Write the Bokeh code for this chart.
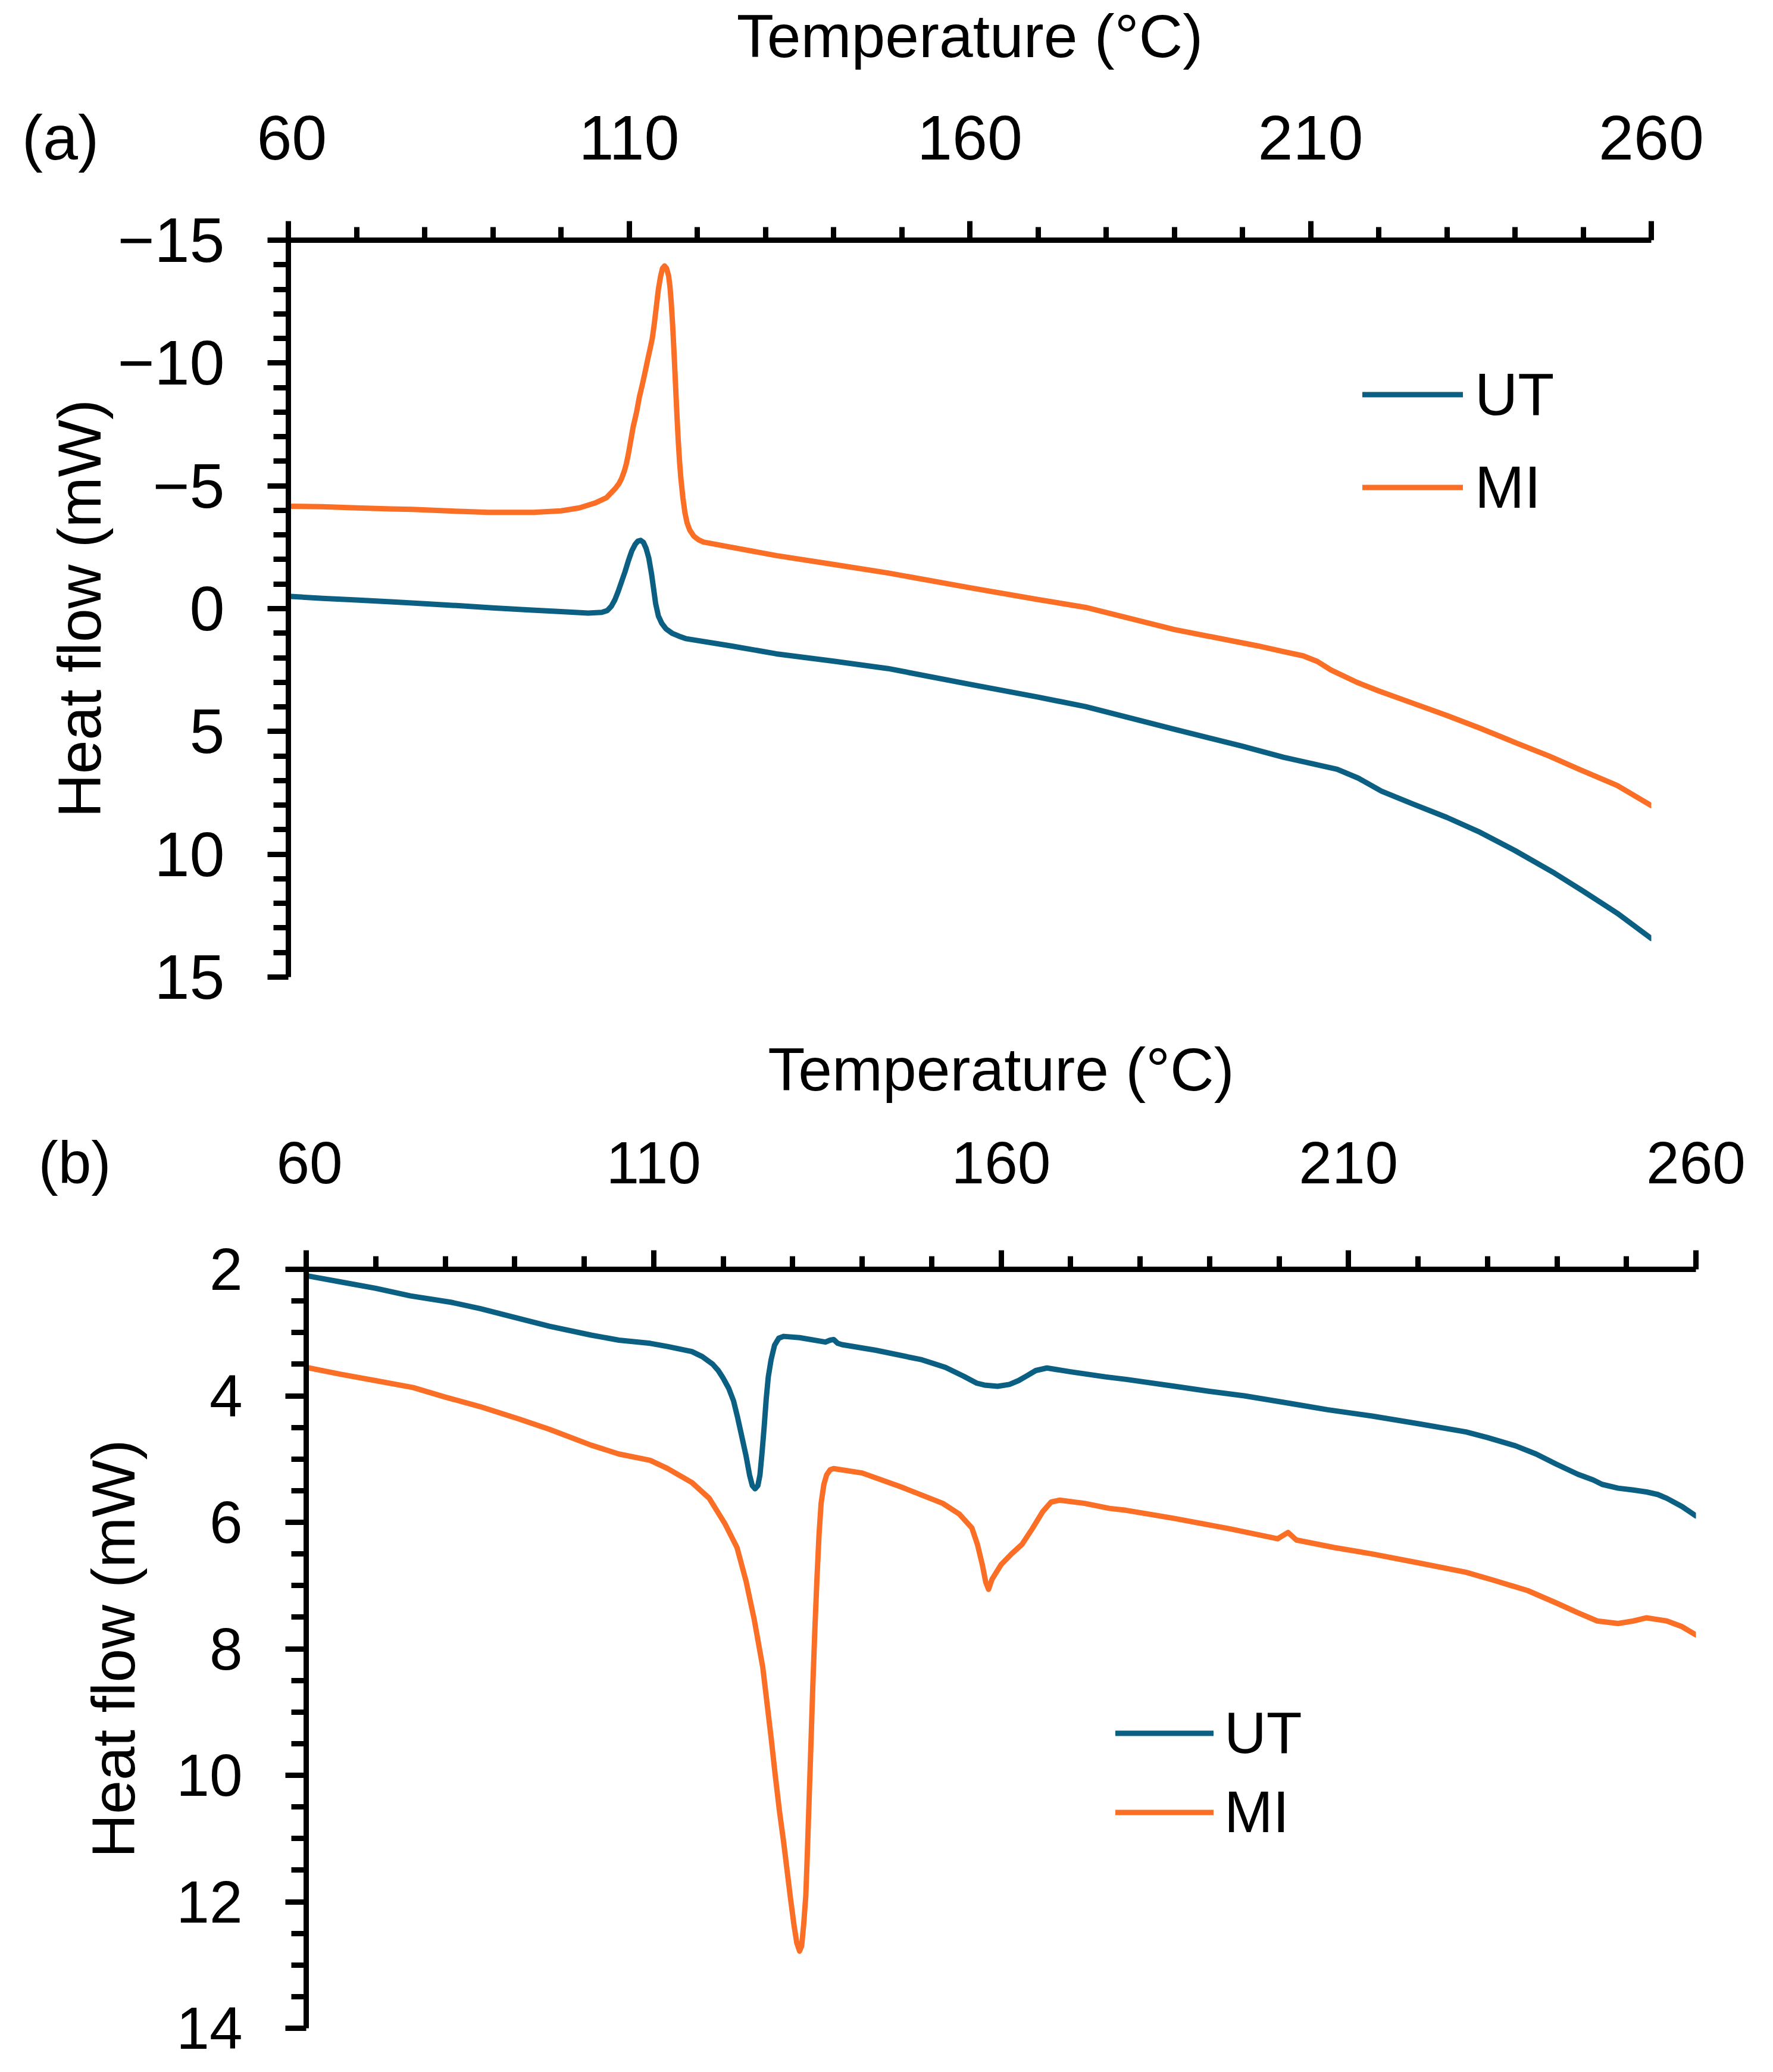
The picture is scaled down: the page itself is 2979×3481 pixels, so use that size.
from bokeh.plotting import figure
from bokeh.models import (Range1d, FixedTicker, CustomJSTickFormatter, Legend,
                          LegendItem)
from bokeh.embed import file_html
from bokeh.resources import INLINE

# ---------------- data: panel (a) ----------------
a_ut_t = [60, 65, 70, 75, 80, 85, 90, 95, 100, 104, 106, 106.8, 107.4, 107.9, 108.4,
          108.9, 109.4, 109.9, 110.4, 110.9, 111.3, 111.7, 112.1, 112.5, 112.9, 113.3,
          113.6, 113.9, 114.3, 114.8, 115.4, 116.3, 117.3, 118.3, 125, 131.6, 140, 148,
          160, 170, 177, 190, 200, 206, 210, 213.9, 217, 220.4, 225, 230, 234.9, 240,
          245.8, 250, 255, 260]
a_ut_v = [-0.50, -0.42, -0.35, -0.28, -0.20, -0.12, -0.03, 0.05, 0.12, 0.18, 0.15, 0.08,
          -0.1, -0.35, -0.7, -1.1, -1.5, -1.95, -2.35, -2.62, -2.75, -2.78, -2.7, -2.45,
          -2.05, -1.4, -0.8, -0.2, 0.3, 0.6, 0.82, 1.0, 1.12, 1.22, 1.52, 1.84, 2.14, 2.44,
          3.08, 3.6, 3.99, 4.91, 5.6, 6.05, 6.3, 6.54, 6.9, 7.43, 7.95, 8.5, 9.11, 9.85,
          10.77, 11.5, 12.4, 13.43]

a_mi_t = [60, 65, 70, 75, 78.2, 85, 89.3, 96, 100, 102.7, 105, 106.7, 108, 108.5, 108.9,
          109.3, 109.6, 109.9, 110.2, 110.6, 111.1, 111.5, 112.0, 112.4, 112.7, 113.1,
          113.4, 113.7, 114.0, 114.3, 114.6, 114.9, 115.2, 115.5, 115.8, 116.0, 116.2,
          116.4, 116.6, 116.8, 117.0, 117.2, 117.4, 117.6, 117.9, 118.2, 118.5, 118.9,
          119.5, 120.2, 120.9, 125, 131.6, 140, 148, 160, 170, 177, 190, 202.3, 206,
          208.9, 211, 213, 216.8, 220, 225, 230, 234.9, 240, 245, 249.4, 255, 260]
a_mi_v = [-4.17, -4.15, -4.1, -4.06, -4.04, -3.96, -3.92, -3.92, -3.98, -4.10, -4.3,
          -4.52, -4.9, -5.08, -5.30, -5.6, -5.9, -6.3, -6.77, -7.4, -8.0, -8.6, -9.19,
          -9.7, -10.1, -10.6, -11.0, -11.6, -12.3, -13.0, -13.5, -13.85, -13.95, -13.85,
          -13.55, -13.1, -12.4, -11.5, -10.4, -9.2, -8.0, -6.9, -6.0, -5.3, -4.5, -3.9,
          -3.5, -3.2, -2.95, -2.8, -2.71, -2.5, -2.16, -1.8, -1.45, -0.85, -0.37, -0.05,
          0.85, 1.52, 1.75, 1.92, 2.15, 2.5, 3.0, 3.35, 3.85, 4.35, 4.87, 5.45, 6.0, 6.54,
          7.2, 8.02]

# ---------------- data: panel (b) ----------------
b_ut_t = [60, 65, 70, 75, 80.8, 85, 91.8, 95, 101, 105, 109.5, 112, 115.5, 117, 118.5,
          119.3, 120, 120.8, 121.5, 122.1, 122.7, 123.3, 123.8, 124.2, 124.6, 125.0,
          125.3, 125.6, 125.9, 126.2, 126.5, 126.9, 127.4, 128.0, 128.7, 131, 134.7,
          135.4, 135.9, 136.5, 137.1, 142, 148.6, 152, 154.6, 156.5, 157.6, 159.5, 161.2,
          162.5, 163.6, 165, 166.6, 170, 175, 178, 185, 190, 195, 201.6, 207, 213.4, 220,
          226.9, 230, 234.0, 237, 239.9, 243, 245.2, 246.5, 248.8, 251, 252.9, 254.5,
          255.8, 258, 260]
b_ut_v = [2.10, 2.20, 2.30, 2.42, 2.52, 2.62, 2.81, 2.90, 3.04, 3.12, 3.17, 3.22, 3.30,
          3.38, 3.50, 3.6, 3.72, 3.88, 4.08, 4.35, 4.65, 4.95, 5.25, 5.42, 5.47, 5.42,
          5.25, 4.9, 4.5, 4.05, 3.7, 3.43, 3.2, 3.09, 3.06, 3.08, 3.15, 3.12, 3.11, 3.17,
          3.19, 3.28, 3.43, 3.55, 3.69, 3.80, 3.83, 3.85, 3.82, 3.76, 3.69, 3.6, 3.56,
          3.62, 3.70, 3.74, 3.85, 3.93, 4.0, 4.12, 4.22, 4.32, 4.44, 4.57, 4.66, 4.79,
          4.92, 5.08, 5.24, 5.33, 5.40, 5.46, 5.49, 5.52, 5.56, 5.62, 5.75, 5.90]

b_mi_t = [60, 65, 70, 75.4, 80, 85, 90.7, 95, 101, 105, 109.5, 112, 115.5, 118, 120.3,
          122, 123.3, 124.5, 125.7, 126.9, 127.5, 128.1, 128.7, 129.2, 129.7, 130.2,
          130.6, 131.0, 131.3, 131.6, 131.9, 132.1, 132.4, 132.7, 132.9, 133.2, 133.5,
          133.8, 134.1, 134.5, 134.9, 135.4, 135.9, 140, 145.6, 151.6, 154, 155.8, 156.6,
          157.3, 157.8, 158.2, 158.7, 160.0, 161.5, 163.0, 164.5, 166.0, 167.2, 168.4,
          172, 175.6, 178, 185, 192.8, 199.8, 201.3, 202.5, 208, 213.4, 220, 226.9, 231,
          235.8, 240, 243, 245.8, 248.8, 251, 252.9, 255.8, 258, 260]
b_mi_v = [3.55, 3.66, 3.76, 3.87, 4.02, 4.17, 4.37, 4.53, 4.78, 4.92, 5.02, 5.15, 5.37,
          5.62, 6.03, 6.4, 6.93, 7.55, 8.29, 9.4, 10.0, 10.56, 11.05, 11.5, 11.95, 12.37,
          12.65, 12.78, 12.7, 12.35, 11.9, 11.3, 10.3, 9.3, 8.61, 7.7, 6.9, 6.2, 5.70,
          5.4, 5.25, 5.17, 5.15, 5.22, 5.44, 5.70, 5.87, 6.09, 6.35, 6.67, 6.95, 7.06,
          6.9, 6.67, 6.5, 6.35, 6.1, 5.83, 5.68, 5.65, 5.70, 5.78, 5.81, 5.94, 6.10, 6.26,
          6.16, 6.28, 6.40, 6.50, 6.64, 6.79, 6.92, 7.08, 7.28, 7.43, 7.56, 7.60, 7.56,
          7.51, 7.56, 7.65, 7.78]

x_major = [60, 110, 160, 210, 260]
x_minor = [70, 80, 90, 100, 120, 130, 140, 150, 170, 180, 190, 200, 220, 230, 240, 250]
a_y_major = [-15, -10, -5, 0, 5, 10, 15]
a_y_minor = [v for v in range(-15, 16) if v % 5 != 0]
b_y_major = [2, 4, 6, 8, 10, 12, 14]
b_y_minor = [2 + 0.5 * i for i in range(25) if (2 + 0.5 * i) % 2 != 0]

series_names = ["UT", "MI"]
colors = ["#0B5F82", "#FA6E26"]
panel_tags = ["(a)", "(b)"]

FONT = "Liberation Sans"
fmt = CustomJSTickFormatter(code="return tick < 0 ? '\\u2212' + (-tick) : String(tick);")


def x_formatter(tag, n_before, n_after):
    # the panel tag shares the first tick label's row, left of the frame;
    # no-break spaces keep the "60" itself centred on its tick
    code = ("if (tick == 60) { return '" + tag + "' + '\\u00a0'.repeat(" + str(n_before)
            + ") + '60' + '\\u00a0'.repeat(" + str(n_after) + "); }"
            " return String(tick);")
    return CustomJSTickFormatter(code=code)


def make_panel(width, height, borders, yrange, ymaj, ymin, series, tag, pads,
               tick_fs, leg, x_std, y_std, ylab_std, xlab_std):
    p = figure(width=width, height=height, output_backend="svg", toolbar_location=None,
               x_axis_location="above", x_range=Range1d(60, 260),
               y_range=Range1d(*yrange), tools="")
    p.min_border_left, p.min_border_right, p.min_border_top, p.min_border_bottom = borders
    p.outline_line_color = None
    p.grid.visible = False
    p.background_fill_color = "white"
    p.border_fill_color = "white"

    xa = p.xaxis[0]
    xa.ticker = FixedTicker(ticks=x_major, minor_ticks=x_minor)
    xa.formatter = x_formatter(tag, *pads)
    xa.axis_label = "Temperature (°C)"
    xa.major_tick_out, xa.major_tick_in = 32, 0
    xa.minor_tick_out, xa.minor_tick_in = 22, 0
    xa.major_label_standoff = x_std
    xa.axis_label_standoff = xlab_std

    ya = p.yaxis[0]
    ya.ticker = FixedTicker(ticks=ymaj, minor_ticks=ymin)
    ya.formatter = fmt
    ya.axis_label = "Heat flow (mW)"
    ya.major_tick_out, ya.major_tick_in = 35, 0
    ya.minor_tick_out, ya.minor_tick_in = 25, 0
    ya.major_label_standoff = y_std
    ya.axis_label_standoff = ylab_std

    for ax in (xa, ya):
        ax.axis_line_width = 9
        ax.major_tick_line_width = 9
        ax.minor_tick_line_width = 9
        ax.axis_line_color = "black"
        ax.major_tick_line_color = "black"
        ax.minor_tick_line_color = "black"
        ax.major_label_text_font = FONT
        ax.major_label_text_font_size = f"{tick_fs}px"
        ax.major_label_text_color = "black"
        ax.axis_label_text_font = FONT
        ax.axis_label_text_font_size = "102px"
        ax.axis_label_text_font_style = "normal"
        ax.axis_label_text_color = "black"

    items = []
    for (t, v), name, col in zip(series, series_names, colors):
        r = p.line(t, v, line_color=col, line_width=9, line_join="round", line_cap="round")
        items.append(LegendItem(label=name, renderers=[r]))

    gw, gh, sp, std, loc, lfs = leg
    lg = Legend(items=items, location=loc, glyph_width=gw, glyph_height=gh, spacing=sp,
                label_standoff=std, padding=0, margin=0, border_line_color=None,
                background_fill_alpha=0, label_text_font=FONT,
                label_text_font_size=f"{lfs}px", label_text_color="black",
                label_height=gh)
    p.add_layout(lg, "center")
    return p


HA, HB = 1736, 1729
pa = make_panel(2960, HA, (484, 186, 378, 95), (15, -15), a_y_major, a_y_minor,
                [(a_ut_t, a_ut_v), (a_mi_t, a_mi_v)], panel_tags[0], (9, 13), 106,
                (169, 125, 31, 20, (1805, 760), 100), 82, 72, 4, 51)
pb = make_panel(2960, HB, (514, 111, 371, 58), (14, 2), b_y_major, b_y_minor,
                [(b_ut_t, b_ut_v), (b_mi_t, b_mi_v)], panel_tags[1], (10, 14), 100,
                (165, 115, 18, 18, (1360, 305), 98), 92, 72, 45, 40)

open("out.html", "w").write(file_html([pa, pb], INLINE))
